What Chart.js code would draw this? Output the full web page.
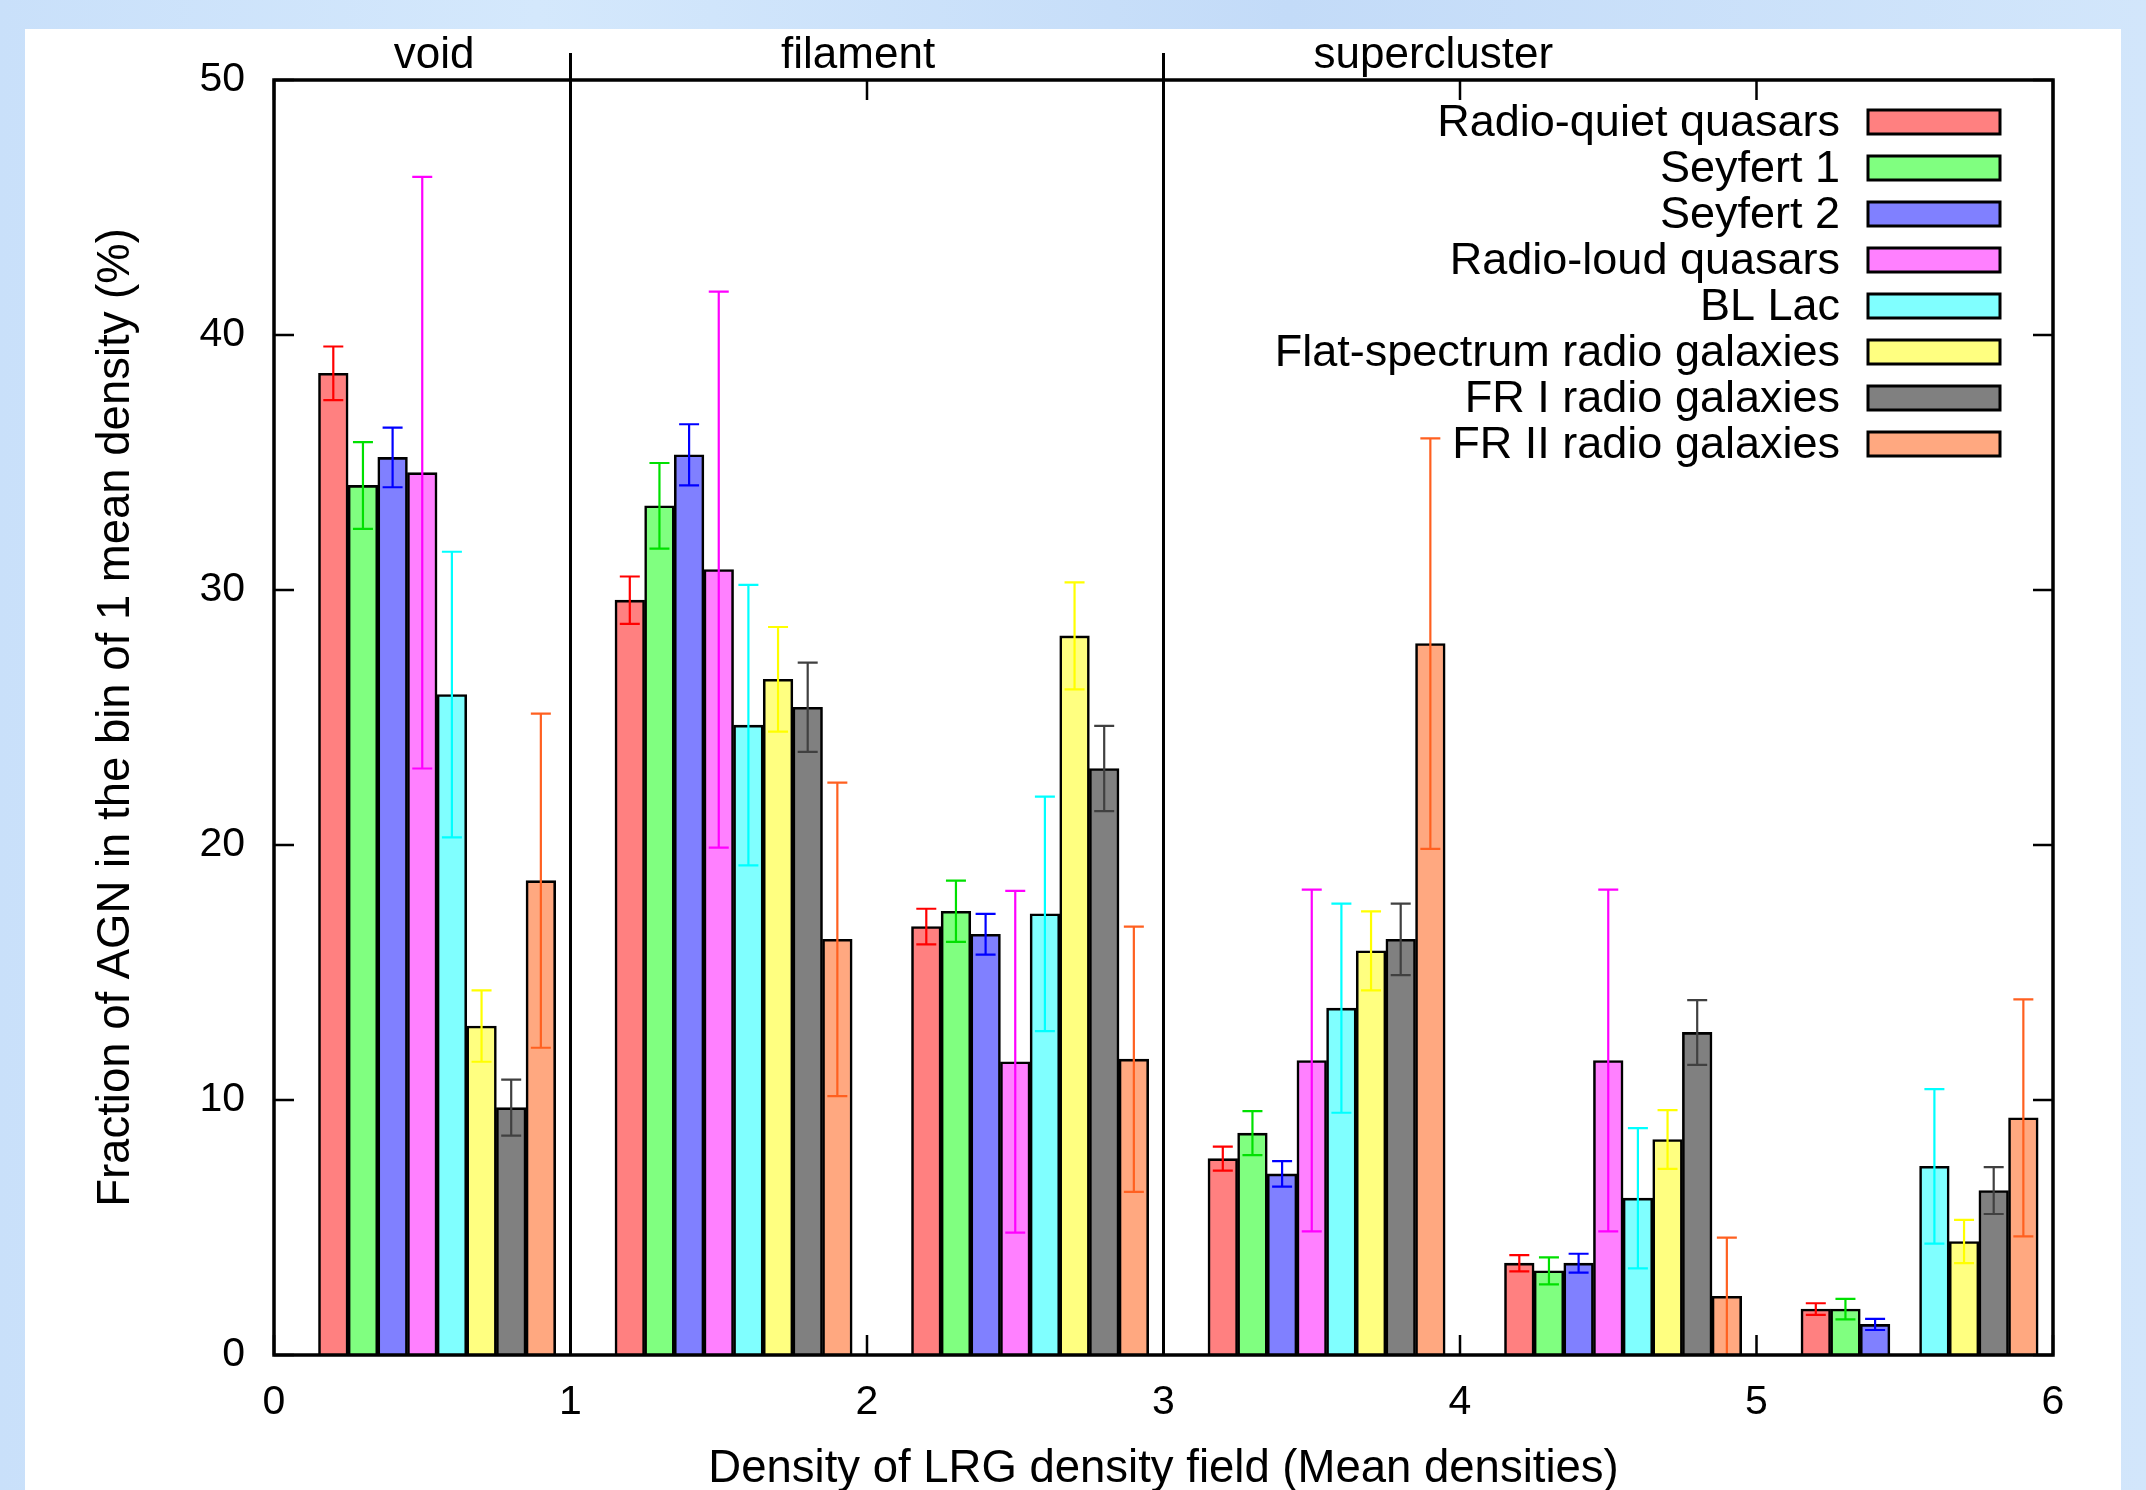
<!DOCTYPE html>
<html>
<head>
<meta charset="utf-8">
<title>Fraction of AGN per LRG density bin</title>
<script src="https://cdn.jsdelivr.net/npm/chart.js@4.4.1/dist/chart.umd.min.js"></script>
<style>
    html, body { margin: 0; padding: 0; }
    body {
        width: 2146px;
        height: 1490px;
        overflow: hidden;
        background: linear-gradient(90deg, #c9e0fa 0%, #d4e8fc 25%, #c3dbf8 60%, #d2e6fb 100%);
    }
    #wrap { position: relative; width: 2146px; height: 1490px; }
</style>
</head>
<body>
<div id="wrap"><canvas id="agnChart"></canvas></div>
<script>
// Density bins (left edge of each bin, in mean densities)
const binStarts = [0, 1, 2, 3, 4, 5];
const xTicks = [0, 1, 2, 3, 4, 5, 6];
const yTicks = [0, 10, 20, 30, 40, 50];

// Environment regions shown above the plot
const regionNames = ['void', 'filament', 'supercluster'];
const regionCenters = [0.54, 1.97, 3.91];
const regionBoundaries = [1, 3];

const seriesNames = [
    'Radio-quiet quasars',
    'Seyfert 1',
    'Seyfert 2',
    'Radio-loud quasars',
    'BL Lac',
    'Flat-spectrum radio galaxies',
    'FR I radio galaxies',
    'FR II radio galaxies'
];

// Fraction (%) per bin, and the error on it
const radioQuiet = [38.5, 29.6, 16.8, 7.7, 3.6, 1.8];
const radioQuietErr = [1.05, 0.93, 0.7, 0.47, 0.32, 0.23];
const seyfert1 = [34.1, 33.3, 17.4, 8.7, 3.3, 1.8];
const seyfert1Err = [1.7, 1.68, 1.2, 0.86, 0.53, 0.4];
const seyfert2 = [35.2, 35.3, 16.5, 7.1, 3.6, 1.2];
const seyfert2Err = [1.17, 1.2, 0.8, 0.5, 0.37, 0.22];
const radioLoud = [34.6, 30.8, 11.5, 11.55, 11.55, null];
const radioLoudErr = [11.6, 10.9, 6.7, 6.7, 6.7, null];
const blLac = [25.9, 24.7, 17.3, 13.6, 6.15, 7.4];
const blLacErr = [5.6, 5.5, 4.6, 4.1, 2.75, 3.03];
const flatSpectrum = [12.9, 26.5, 28.2, 15.85, 8.45, 4.45];
const flatSpectrumErr = [1.4, 2.05, 2.1, 1.55, 1.15, 0.85];
const frOne = [9.7, 25.4, 23.0, 16.3, 12.65, 6.45];
const frOneErr = [1.1, 1.75, 1.67, 1.4, 1.27, 0.92];
const frTwo = [18.6, 16.3, 11.6, 27.9, 2.3, 9.3];
const frTwoErr = [6.55, 6.15, 5.2, 8.05, 2.3, 4.65];

const seriesValues = [radioQuiet, seyfert1, seyfert2, radioLoud, blLac, flatSpectrum, frOne, frTwo];
const seriesErrors = [radioQuietErr, seyfert1Err, seyfert2Err, radioLoudErr, blLacErr, flatSpectrumErr, frOneErr, frTwoErr];

const fillColors = ['#ff8080', '#80ff80', '#8080ff', '#ff80ff', '#80ffff', '#ffff80', '#808080', '#ffa880'];
const errorColors = ['#ff0000', '#00e000', '#0000ff', '#ff00ff', '#00ffff', '#ffff00', '#404040', '#ff6020'];

const fontFamily = "'Liberation Sans', Arial, Helvetica, sans-serif";
Chart.defaults.font.family = fontFamily;
Chart.defaults.color = '#000';

//Build one dataset per AGN class, boxes sit 0.1 wide from 0.15 into each bin.
const datasets = [];
seriesNames.forEach(function (name, i) {
    const points = [];
    binStarts.forEach(function (start, j) {
        const xPos = Math.round((start + 0.2 + 0.1 * i) * 10) / 10;
        points.push({ x: xPos, y: seriesValues[i][j] });
    });
    datasets.push({
        label: name,
        data: points,
        errors: seriesErrors[i],
        errorColor: errorColors[i],
        backgroundColor: fillColors[i],
        borderColor: '#000',
        borderWidth: 2.6,
        borderSkipped: 'start',
        grouped: false,
        barPercentage: 1,
        categoryPercentage: 1
    });
});

const decorations = {
    id: 'decorations',
    beforeDraw(chart) {
        const ctx = chart.ctx;
        ctx.save();
        ctx.fillStyle = '#ffffff';
        ctx.fillRect(25, 29, 2096, 1461);
        ctx.restore();
    },
    afterDatasetsDraw(chart) {
        const { ctx, chartArea: a, scales: { x, y } } = chart;
        ctx.save();
        ctx.beginPath();
        ctx.rect(a.left, a.top, a.right - a.left, a.bottom - a.top);
        ctx.clip();
        ctx.lineWidth = 2.2;
        chart.data.datasets.forEach(function (ds) {
            ds.data.forEach(function (pt, j) {
                if (pt.y === null) return;
                const err = ds.errors[j];
                const px = x.getPixelForValue(pt.x);
                const hi = y.getPixelForValue(pt.y + err);
                const lo = y.getPixelForValue(pt.y - err);
                ctx.strokeStyle = ds.errorColor;
                ctx.beginPath();
                ctx.moveTo(px, hi); ctx.lineTo(px, lo);
                ctx.moveTo(px - 10, hi); ctx.lineTo(px + 10, hi);
                ctx.moveTo(px - 10, lo); ctx.lineTo(px + 10, lo);
                ctx.stroke();
            });
        });
        ctx.restore();
    },
    afterDraw(chart) {
        const { ctx, chartArea: a, scales: { x, y } } = chart;
        ctx.save();
        ctx.strokeStyle = '#000';
        ctx.lineWidth = 3.5;
        ctx.strokeRect(a.left, a.top, a.right - a.left, a.bottom - a.top);

        //Inward tick marks on all four sides.
        ctx.lineWidth = 2.5;
        ctx.beginPath();
        yTicks.forEach(function (v) {
            const py = y.getPixelForValue(v);
            ctx.moveTo(a.left, py); ctx.lineTo(a.left + 20, py);
            ctx.moveTo(a.right, py); ctx.lineTo(a.right - 20, py);
        });
        xTicks.forEach(function (v) {
            const px = x.getPixelForValue(v);
            ctx.moveTo(px, a.bottom); ctx.lineTo(px, a.bottom - 20);
            ctx.moveTo(px, a.top); ctx.lineTo(px, a.top + 20);
        });
        ctx.stroke();

        //Region separators.
        ctx.lineWidth = 3;
        ctx.beginPath();
        regionBoundaries.forEach(function (v) {
            const px = x.getPixelForValue(v);
            ctx.moveTo(px, 53); ctx.lineTo(px, a.bottom);
        });
        ctx.stroke();

        //Region names.
        ctx.fillStyle = '#000';
        ctx.font = '44px ' + fontFamily;
        ctx.textAlign = 'center';
        ctx.textBaseline = 'alphabetic';
        regionNames.forEach(function (name, i) {
            ctx.fillText(name, x.getPixelForValue(regionCenters[i]), 68);
        });

        //Legend, text right-aligned with a box to its right.
        ctx.font = '45px ' + fontFamily;
        ctx.textAlign = 'right';
        ctx.textBaseline = 'middle';
        chart.data.datasets.forEach(function (ds, i) {
            const cy = 122 + 46 * i;
            ctx.fillStyle = '#000';
            ctx.fillText(ds.label, a.right - 213, cy + 2);
            ctx.fillStyle = ds.backgroundColor;
            ctx.fillRect(a.right - 185, cy - 12, 132, 24);
            ctx.lineWidth = 3;
            ctx.strokeStyle = '#000';
            ctx.strokeRect(a.right - 185, cy - 12, 132, 24);
        });
        ctx.restore();
    }
};

new Chart(document.getElementById('agnChart'), {
    type: 'bar',
    data: { datasets: datasets },
    options: {
        responsive: true,
        maintainAspectRatio: false,
        animation: false,
        layout: { padding: { left: 0, right: 93, top: 80, bottom: 0 } },
        plugins: {
            legend: { display: false },
            tooltip: { enabled: false }
        },
        scales: {
            x: {
                type: 'linear',
                min: 0,
                max: 6,
                offset: false,
                afterBuildTicks(scale) {
                    scale.ticks = xTicks.map(function (v) { return { value: v }; });
                },
                ticks: { color: '#000', font: { size: 41 }, padding: 23, maxRotation: 0, autoSkip: false },
                grid: { display: false, offset: false, drawTicks: false },
                border: { display: false },
                title: {
                    display: true,
                    text: 'Density of LRG density field (Mean densities)',
                    color: '#000',
                    font: { size: 45.5, lineHeight: 1 },
                    padding: { top: 0, bottom: -2 }
                },
                afterFit(scale) { scale.height = 135; }
            },
            y: {
                type: 'linear',
                min: 0,
                max: 50,
                afterBuildTicks(scale) {
                    scale.ticks = yTicks.map(function (v) { return { value: v }; });
                },
                ticks: { color: '#000', font: { size: 41 }, padding: 29 },
                grid: { display: false, drawTicks: false },
                border: { display: false },
                title: {
                    display: true,
                    text: 'Fraction of AGN in the bin of 1 mean density (%)',
                    color: '#000',
                    font: { size: 45.5, lineHeight: 1.2 },
                    padding: { top: 89, bottom: 0 }
                },
                afterFit(scale) { scale.width = 274; }
            }
        }
    },
    plugins: [decorations]
});
</script>
</body>
</html>
